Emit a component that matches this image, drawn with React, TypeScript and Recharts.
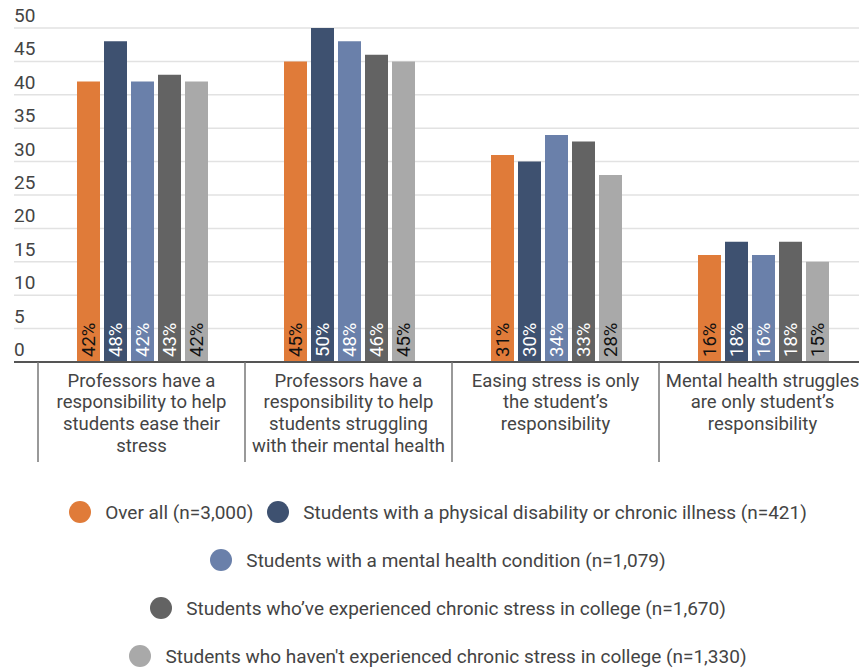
import { BarChart, Bar, XAxis, YAxis, CartesianGrid, Legend, LabelList } from "recharts";

const categories = [
  "Professors have a\nresponsibility to help\nstudents ease their\nstress",
  "Professors have a\nresponsibility to help\nstudents struggling\nwith their mental health",
  "Easing stress is only\nthe student’s\nresponsibility",
  "Mental health struggles\nare only student’s\nresponsibility",
];

const overall = [42, 45, 31, 16];
const physical = [48, 50, 30, 18];
const mental = [42, 48, 34, 16];
const chronic = [43, 46, 33, 18];
const noChronic = [42, 45, 28, 15];

const yTicks = [0, 5, 10, 15, 20, 25, 30, 35, 40, 45, 50];

const series = [
  { key: "overall", name: "Over all (n=3,000)", color: "#E07B39", text: "#111" },
  { key: "physical", name: "Students with a physical disability or chronic illness (n=421)", color: "#3E5170", text: "#fff" },
  { key: "mental", name: "Students with a mental health condition (n=1,079)", color: "#6A80AA", text: "#fff" },
  { key: "chronic", name: "Students who’ve experienced chronic stress in college (n=1,670)", color: "#636363", text: "#fff" },
  { key: "noChronic", name: "Students who haven't experienced chronic stress in college (n=1,330)", color: "#A9A9A9", text: "#111" },
];

// legend rows, by series index
const legendRows = [[0, 1], [2], [3], [4]];

const rows = categories.map((c, i) => ({
  cat: c,
  overall: overall[i],
  physical: physical[i],
  mental: mental[i],
  chronic: chronic[i],
  noChronic: noChronic[i],
}));

const W = 876;
const H = 669;
const FONT = "Roboto, sans-serif";
const Y_W = 14;
const PAD_L = 24;
const M_R = 10;
const BAND = (W - Y_W - PAD_L - M_R) / categories.length;

function YTick(props: any) {
  const { y, payload } = props;
  return (
    <text x={14} y={y - 6} fontSize={19} fill="#444" fontFamily={FONT} textAnchor="start">
      {payload.value}
    </text>
  );
}

function XTick(props: any) {
  const { x, y, payload } = props;
  const lines = String(payload.value).split("\n");
  const left = x - BAND / 2;
  return (
    <g>
      <line x1={left} y1={y - 8} x2={left} y2={y + 92} stroke="#777" strokeWidth={1.5} />
      {lines.map((l, i) => (
        <text key={i} x={x} y={y + 16.5 + i * 21.7} textAnchor="middle" fontSize={18.5} fill="#444" fontFamily={FONT}>
          {l}
        </text>
      ))}
    </g>
  );
}

function makeLabel(color: string) {
  return (props: any) => {
    const { x, y, width, height, value } = props;
    const cx = x + width / 2;
    const by = y + height - 5;
    return (
      <text
        x={cx}
        y={by}
        transform={`rotate(-90, ${cx}, ${by})`}
        textAnchor="start"
        dominantBaseline="central"
        fontSize={18.5}
        fill={color}
        fontFamily={FONT}
      >
        {value}%
      </text>
    );
  };
}

function LegendContent() {
  return (
    <div style={{ fontFamily: FONT, fontSize: 19, color: "#444" }}>
      {legendRows.map((r, i) => (
        <div
          key={i}
          style={{ display: "flex", justifyContent: "center", alignItems: "center", height: 48 }}
        >
          {r.map((si) => (
            <span key={si} style={{ display: "inline-flex", alignItems: "center", margin: "0 7px" }}>
              <span
                style={{
                  display: "inline-block",
                  width: 22,
                  height: 22,
                  borderRadius: "50%",
                  background: series[si].color,
                  marginRight: 14,
                }}
              />
              {series[si].name}
            </span>
          ))}
        </div>
      ))}
    </div>
  );
}

export default function App() {
  return (
    <div style={{ position: "absolute", left: 0, top: 0, width: 859, height: 669, overflow: "hidden", background: "#fff" }}>
      <BarChart
        width={W}
        height={H}
        data={rows}
        margin={{ top: 28, right: M_R, bottom: 207, left: 0 }}
        barCategoryGap={39}
        barGap={4}
      >
        <CartesianGrid vertical={false} stroke="#e2e2e2" strokeWidth={1.5} />
        <YAxis
          width={Y_W}
          domain={[0, 50]}
          ticks={yTicks}
          axisLine={false}
          tickLine={false}
          tick={<YTick />}
          interval={0}
        />
        <XAxis
          dataKey="cat"
          height={100}
          padding={{ left: PAD_L, right: 0 }}
          axisLine={{ stroke: "#555", strokeWidth: 2 }}
          tickLine={false}
          tick={<XTick />}
          interval={0}
        />
        <Legend
          layout="vertical"
          align="center"
          verticalAlign="middle"
          content={<LegendContent />}
          wrapperStyle={{ left: 0, top: 488, width: W, height: 190 }}
        />
        {series.map((s) => (
          <Bar key={s.key} dataKey={s.key} name={s.name} fill={s.color} isAnimationActive={false}>
            <LabelList dataKey={s.key} content={makeLabel(s.text)} />
          </Bar>
        ))}
      </BarChart>
    </div>
  );
}
